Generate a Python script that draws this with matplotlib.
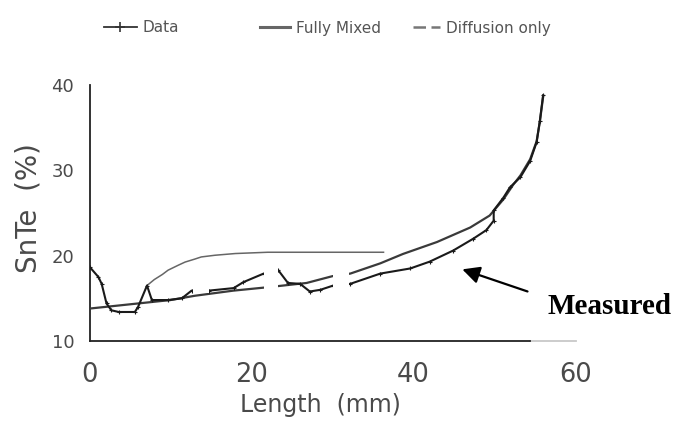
import matplotlib
matplotlib.use('Agg')
import matplotlib.pyplot as plt
from matplotlib.lines import Line2D
from matplotlib.patches import Rectangle

# ---- data ----
data_x = [0, 1.1, 1.5, 2.1, 2.7, 3.6, 5.6, 6.0, 7.1, 7.7, 9.7, 11.4, 12.6, 14.7,
          17.8, 19.0, 21.5, 23.3, 24.5, 26.0, 27.2, 28.5, 30.1, 32.2, 35.9, 39.6,
          42.0, 44.9, 47.4, 49.0, 49.9, 49.9, 51.1, 51.9, 53.2, 54.4, 55.2, 55.6, 56.0]
data_y = [18.7, 17.5, 16.7, 14.4, 13.6, 13.4, 13.4, 14.0, 16.5, 14.8, 14.8, 15.0, 15.9, 15.9,
          16.2, 16.9, 17.9, 18.3, 16.8, 16.7, 15.8, 16.0, 16.5, 16.7, 17.9, 18.5,
          19.3, 20.6, 22.0, 23.0, 24.1, 25.3, 26.8, 28.0, 29.2, 31.1, 33.3, 35.8, 38.8]

mixed_x = [0, 5, 10, 13, 17.75, 22, 26.8, 30, 32.2, 35.9, 38.7, 42.9, 47.0, 49.4,
           51.1, 52.3, 53.2, 54.4, 55.2, 55.6, 56.0]
mixed_y = [13.8, 14.3, 14.8, 15.3, 15.9, 16.3, 16.8, 17.6, 17.9, 19.1, 20.2, 21.6, 23.3, 24.7,
           26.6, 28.3, 29.4, 31.3, 33.4, 35.7, 38.6]

diff_x = [7.1, 8.0, 9.0, 9.7, 11.0, 11.8, 13.0, 13.8, 15.5, 18.0, 22.0, 36.3]
diff_y = [16.5, 17.2, 17.8, 18.3, 18.9, 19.25, 19.6, 19.85, 20.05, 20.25, 20.4, 20.4]

x_ticks = [0, 20, 40, 60]
y_ticks = [10, 20, 30, 40]
legend_labels = ['Data', 'Fully Mixed', 'Diffusion only']

# blank (white) patches visible in the reference: (x0, x1, y0, y1)
blank_boxes = [(12.8, 14.7, 15.6, 16.7), (21.6, 23.3, 15.7, 18.6), (30.1, 32.0, 15.7, 18.2)]

W, H = 679, 429
fig = plt.figure(figsize=(W / 100, H / 100), dpi=100)
ax = fig.add_axes([89.5 / W, 88 / H, 486 / W, 256 / H])

txt = '#4a4a4a'
ax.plot(mixed_x, mixed_y, color='#3a3a3a', lw=1.6, zorder=3)
ax.plot(diff_x, diff_y, color='#666666', lw=1.1, zorder=3)
ax.plot(data_x, data_y, color='#1a1a1a', lw=1.5, marker='+', ms=3.5, mew=0.8, zorder=4)

for x0, x1, y0, y1 in blank_boxes:
    ax.add_patch(Rectangle((x0, y0), x1 - x0, y1 - y0, facecolor='white',
                           edgecolor='none', zorder=6))

ax.set_xlim(0, 60)
ax.set_ylim(10, 40)
ax.set_xticks(x_ticks)
ax.set_yticks(y_ticks)
ax.tick_params(axis='x', length=0, pad=15, labelsize=18.5, labelcolor=txt)
ax.tick_params(axis='y', length=0, pad=11, labelsize=13, labelcolor=txt)

for s in ['top', 'right']:
    ax.spines[s].set_visible(False)
ax.spines['left'].set_linewidth(1.3)
ax.spines['left'].set_color('#222222')
ax.spines['bottom'].set_linewidth(1.3)
ax.spines['bottom'].set_color('#222222')
ax.spines['bottom'].set_bounds(0, 54.4)
ax.axhline(10, xmin=54.4 / 60, xmax=1.0, color='#c8c8c8', lw=1.3, clip_on=False)

ax.set_xlabel('Length  (mm)', fontsize=17, color=txt)
ax.xaxis.set_label_coords((320 - 89.5) / 486, (429 - 405 - 88) / 256)
ax.xaxis.label.set_va('center')
ax.set_ylabel('SnTe  (%)', fontsize=20, color=txt)
ax.yaxis.set_label_coords((28 - 89.5) / 486, (429 - 208 - 88) / 256)
ax.yaxis.label.set_va('center')
ax.yaxis.label.set_ha('center')

# annotation
ax.annotate('', xy=(45.7, 18.5), xytext=(54.4, 15.7),
            arrowprops=dict(arrowstyle='-|>', color='black', lw=1.6, mutation_scale=26),
            annotation_clip=False, zorder=7)
ax.text(56.6, 14.1, 'Measured', fontsize=21, fontweight='bold',
        family=['Liberation Serif', 'DejaVu Serif'], va='center', ha='left',
        color='black', clip_on=False)

# legend (three separate entries, as spaced in the reference)
ly = 1 - 28 / H
handles = [
    Line2D([], [], color='#333333', lw=1.3, marker='+', ms=7, mew=1.2),
    Line2D([], [], color='#666666', lw=2.2),
    Line2D([], [], color='#777777', lw=1.8, linestyle=(0, (5, 2.2))),
]
starts = [104, 260, 413]
hlens = [2.15, 1.96, 1.76]
for h, lab, sx, hl in zip(handles, legend_labels, starts, hlens):
    fig.legend(handles=[h], labels=[lab], loc='center left',
               bbox_to_anchor=(sx / W, ly), frameon=False, borderpad=0,
               borderaxespad=0, handlelength=hl, handletextpad=0.4,
               fontsize=11, labelcolor='#555555')

fig.savefig('out.png', dpi=100)
